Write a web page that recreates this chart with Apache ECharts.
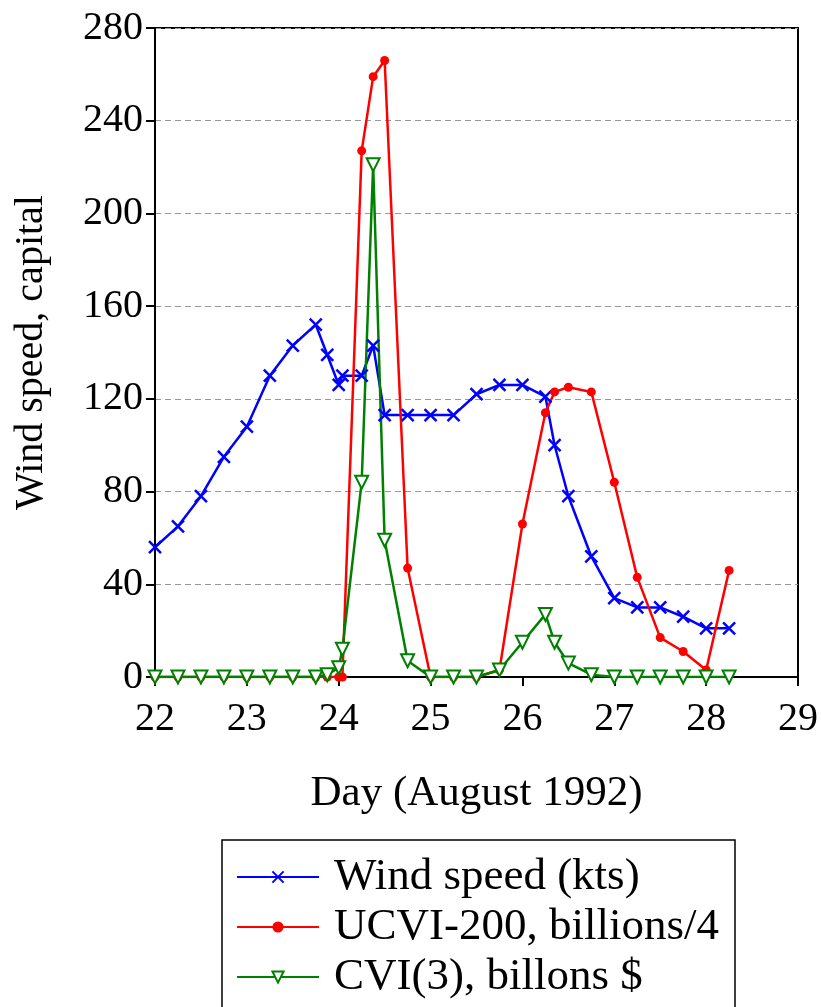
<!DOCTYPE html>
<html>
<head>
<meta charset="utf-8">
<script src="https://cdn.jsdelivr.net/npm/echarts@6/dist/echarts.min.js"></script>
<style>
  html, body { margin: 0; padding: 0; background: #fff; }
  #chart { width: 821px; height: 1007px; }
</style>
</head>
<body>
<div id="chart"></div>
<script>
// wind speed, every 6 hours plus landfall times
let windDays = [22, 22.25, 22.5, 22.75, 23, 23.25, 23.5, 23.75, 23.875, 24, 24.04, 24.25, 24.375, 24.5,
    24.75, 25, 25.25, 25.5, 25.75, 26, 26.25, 26.35, 26.5, 26.75, 27, 27.25, 27.5, 27.75, 28, 28.25];
let windKts = [56, 65, 78, 95, 108, 130, 143, 152, 139, 126, 130, 130, 143, 113,
    113, 113, 113, 122, 126, 126, 121, 100, 78, 52, 34, 30, 30, 26, 21, 21];

// capital series share the same days
let capDays = [22, 22.25, 22.5, 22.75, 23, 23.25, 23.5, 23.75, 23.875, 24, 24.04, 24.25, 24.375, 24.5,
    24.75, 25, 25.25, 25.5, 25.75, 26, 26.25, 26.35, 26.5, 26.75, 27, 27.25, 27.5, 27.75, 28, 28.25];
let ucvi = [0, 0, 0, 0, 0, 0, 0, 0, 0, 0, 0, 227, 259, 266,
    47, 0, 0, 0, 3, 66, 114, 123, 125, 123, 84, 43, 17, 11, 3, 46];
let cvi = [0, 0, 0, 0, 0, 0, 0, 0, 1, 4, 12, 84, 221, 59,
    7, 0, 0, 0, 3, 15, 27, 15, 6, 1, 0, 0, 0, 0, 0, 0];

let seriesNames = ['Wind speed (kts)', 'UCVI-200, billions/4', 'CVI(3), billons $'];

const pairs = (xs, ys) => xs.map((x, i) => [x, ys[i]]);

let font = 'Liberation Serif';
let crossSymbol = 'path://M0,0L10,10M10,0L0,10';

let option = {
    backgroundColor: '#fff',
    animation: false,
    grid: {
        left: 155,
        right: 19,
        top: 28,
        bottom: 330,
        show: true,
        borderColor: '#000',
        borderWidth: 2
    },
    xAxis: {
        type: 'value',
        min: 22,
        max: 29,
        interval: 1,
        name: 'Day (August 1992)',
        nameLocation: 'middle',
        nameGap: 95,
        nameTextStyle: { fontFamily: font, fontSize: 43, color: '#000' },
        axisLine: { lineStyle: { color: '#000', width: 2 } },
        axisTick: { inside: false, length: 9, lineStyle: { color: '#000', width: 2 } },
        axisLabel: { margin: 22, fontFamily: font, fontSize: 40, color: '#000' },
        splitLine: { show: false }
    },
    yAxis: {
        type: 'value',
        min: 0,
        max: 280,
        interval: 40,
        name: 'Wind speed, capital',
        nameLocation: 'middle',
        nameGap: 104,
        nameTextStyle: { fontFamily: font, fontSize: 40, color: '#000' },
        axisLine: { lineStyle: { color: '#000', width: 2 } },
        axisTick: { inside: false, length: 9, lineStyle: { color: '#000', width: 2 } },
        axisLabel: { margin: 12, fontFamily: font, fontSize: 40, color: '#000' },
        splitLine: { show: true, lineStyle: { color: '#999', type: [6, 4], width: 1 } }
    },
    legend: {
        orient: 'vertical',
        left: 222,
        top: 840,
        height: 400,
        data: seriesNames,
        itemWidth: 82,
        itemHeight: 14,
        itemGap: 0,
        padding: [12, 16, 40, 14],
        borderColor: '#000',
        borderWidth: 1.5,
        textStyle: { fontFamily: font, fontSize: 45, color: '#000', lineHeight: 50, padding: [0, 0, 0, 10] }
    },
    series: [{
        name: seriesNames[0],
        type: 'line',
        data: pairs(windDays, windKts),
        symbol: crossSymbol,
        symbolSize: 12,
        lineStyle: { color: '#0000ff', width: 2.5 },
        itemStyle: { color: '#0000ff', borderColor: '#0000ff', borderWidth: 2.5 }
    }, {
        name: seriesNames[1],
        type: 'line',
        data: pairs(capDays, ucvi),
        symbol: 'circle',
        symbolSize: 9,
        lineStyle: { color: '#ff0000', width: 2.5 },
        itemStyle: { color: '#ff0000' }
    }, {
        name: seriesNames[2],
        type: 'line',
        data: pairs(capDays, cvi),
        symbol: 'emptyTriangle',
        symbolRotate: 180,
        symbolSize: 13,
        lineStyle: { color: '#008000', width: 2.5 },
        itemStyle: { color: '#008000', borderColor: '#008000', borderWidth: 1.5 }
    }]
};

let chart = echarts.init(document.getElementById('chart'));
chart.setOption(option);
</script>
</body>
</html>
